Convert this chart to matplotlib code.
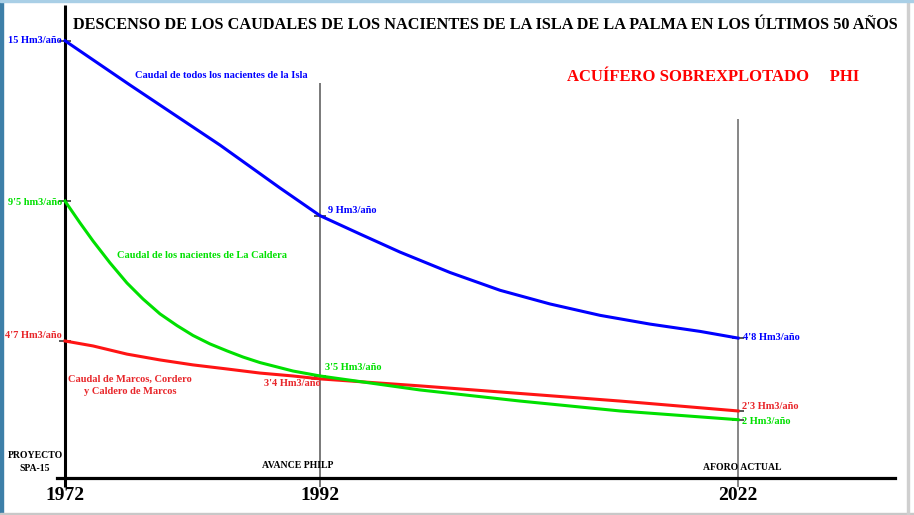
import numpy as np
import matplotlib
matplotlib.use("Agg")
import matplotlib.pyplot as plt
from matplotlib.patches import Rectangle

plt.rcParams['font.family'] = ['Liberation Serif', 'DejaVu Serif']

# ---------------- data ----------------
milestone_years = [1972, 1992, 2022]
milestone_names = ["PROYECTO\nSPA-15", "AVANCE PHILP", "AFORO ACTUAL"]

isla_years = [1972, 1977.10, 1984.16, 1988.86, 1992, 1994.87, 1997.74, 2001.33, 2004.92,
              2008.51, 2012.10, 2015.68, 2019.27, 2022]
isla_vals = [15.0, 13.48, 11.42, 9.95, 9.0, 8.37, 7.75, 7.05, 6.44,
             5.97, 5.58, 5.28, 5.03, 4.8]

caldera_years = [1972, 1973.18, 1974.20, 1975.53, 1976.86, 1978.12, 1979.45, 1980.78, 1982.04,
                 1983.37, 1984.71, 1985.96, 1987.29, 1988.63, 1989.88, 1992,
                 1999.18, 2006.35, 2013.53, 2022]
caldera_vals = [9.5, 8.75, 8.13, 7.38, 6.69, 6.14, 5.63, 5.23, 4.89,
                4.60, 4.36, 4.15, 3.96, 3.81, 3.67, 3.5,
                3.02, 2.64, 2.30, 2.0]

marcos_years = [1972, 1974.20, 1976.86, 1979.45, 1982.04, 1984.71, 1987.29, 1989.88, 1992,
                1999.18, 2006.35, 2013.53, 2022]
marcos_vals = [4.7, 4.53, 4.25, 4.05, 3.88, 3.74, 3.60, 3.50, 3.4,
               3.16, 2.90, 2.64, 2.3]

# labelled points: (year, value, text)
isla_points = [(1972, 15.0, "15 Hm3/año"), (1992, 9.0, "9 Hm3/año"), (2022, 4.8, "4'8 Hm3/año")]
caldera_points = [(1972, 9.5, "9'5 hm3/año"), (1992, 3.5, "3'5 Hm3/año"), (2022, 2.0, "2 Hm3/año")]
marcos_points = [(1972, 4.7, "4'7 Hm3/año"), (1992, 3.4, "3'4 Hm3/año"), (2022, 2.3, "2'3 Hm3/año")]

title = "DESCENSO DE LOS CAUDALES DE LOS NACIENTES DE LA ISLA DE LA PALMA EN LOS ÚLTIMOS 50 AÑOS"
subtitle = "ACUÍFERO SOBREXPLOTADO     PHI"

BLUE = "#0000ff"
GREEN = "#00e000"
RED = "#ff1414"
RED_T = "#e8262a"

W, H = 914, 515

def px(x, y):
    return (x / W, 1 - y / H)

# hand-drawn, non-uniform time axis
def fwd(t):
    t = np.asarray(t, float)
    return np.where(t <= 1992, 65 + (t - 1972) * 12.75, 320 + (t - 1992) * 418 / 30)

def inv(u):
    u = np.asarray(u, float)
    return np.where(u <= 320, 1972 + (u - 65) / 12.75, 1992 + (u - 320) * 30 / 418)

fig = plt.figure(figsize=(W / 100, H / 100), dpi=100)
ax = fig.add_axes([57 / W, (H - 478) / H, (895 - 57) / W, 473 / H])
ax.set_xscale('function', functions=(fwd, inv))
ax.set_xlim(float(inv(57)), float(inv(895)))
ax.set_ylim(0, 473 / 29.15)

for s in ['top', 'right', 'left']:
    ax.spines[s].set_visible(False)
ax.spines['bottom'].set_linewidth(2.3)
ax.spines['bottom'].set_color('black')
ax.set_xticks([])
ax.set_yticks([])
ax.patch.set_alpha(0)

# vertical axis at 1972 and guide lines
ax.vlines(milestone_years[0], -0.3, 473 / 29.15, color='black', lw=2.2, clip_on=False, zorder=3)
ax.vlines(milestone_years[1], -0.3, 13.55, color='#555555', lw=1.1, clip_on=False, zorder=1)
ax.vlines(milestone_years[2], -0.3, 12.3, color='#666666', lw=1.1, clip_on=False, zorder=1)

# small tick marks at labelled points
for pts in (isla_points, caldera_points, marcos_points):
    ax.plot([p[0] for p in pts], [p[1] for p in pts], ls='none', marker='_',
            ms=8, mew=1.4, color='#555555', zorder=2, clip_on=False)

# curves
ax.plot(isla_years, isla_vals, color=BLUE, lw=2.2, zorder=4, solid_joinstyle='round')
ax.plot(marcos_years, marcos_vals, color=RED, lw=2.2, zorder=4, solid_joinstyle='round')
ax.plot(caldera_years, caldera_vals, color=GREEN, lw=2.2, zorder=5, solid_joinstyle='round')

fs = 7.5
def lab(pt, color, dx, dy, ha='left'):
    ax.annotate(pt[2], (pt[0], pt[1]), xytext=(dx, dy), textcoords='offset pixels',
                ha=ha, va='center', color=color, fontsize=fs, fontweight='bold', zorder=6)

lab(isla_points[0], BLUE, -3, 0, 'right')
lab(isla_points[1], BLUE, 8, 5)
lab(isla_points[2], BLUE, 5, 1)
lab(caldera_points[0], GREEN, -3, -1, 'right')
lab(caldera_points[1], GREEN, 5, 8)
lab(caldera_points[2], GREEN, 4, -2)
lab(marcos_points[0], RED_T, -3, 5, 'right')
lab(marcos_points[1], RED_T, 1, -5, 'right')
lab(marcos_points[2], RED_T, 4, 4)

# series names
fig.text(*px(135, 76), "Caudal de todos los nacientes de la Isla", color=BLUE, fontsize=fs,
         fontweight='bold', ha='left', va='center')
fig.text(*px(117, 256), "Caudal de los nacientes de La Caldera", color=GREEN, fontsize=fs,
         fontweight='bold', ha='left', va='center')
fig.text(*px(130, 385), "Caudal de Marcos, Cordero\ny Caldero de Marcos", color=RED_T, fontsize=fs,
         fontweight='bold', ha='center', va='center', linespacing=1.45)

# titles
fig.text(*px(73, 25), title, fontsize=11.7, fontweight='bold', ha='left', va='center', color='black')
fig.text(*px(567, 77), subtitle, fontsize=12, fontweight='bold', ha='left', va='center', color='#ff0000')

# milestone texts and years
fig.text(*px(35, 462), milestone_names[0], fontsize=7, fontweight='bold', ha='center', va='center',
         linespacing=1.5)
fig.text(*px(298, 466), milestone_names[1], fontsize=7, fontweight='bold', ha='center', va='center')
fig.text(*px(742, 468), milestone_names[2], fontsize=7, fontweight='bold', ha='center', va='center')
for yr in milestone_years:
    ax.annotate(str(yr), (yr, 0), xytext=(0, -18), textcoords='offset pixels', ha='center',
                va='center', fontsize=14, fontweight='bold', annotation_clip=False)

# frame decorations
fig.patches.append(Rectangle((0, 0), 3 / W, 1, transform=fig.transFigure, color='#3d7fa8', zorder=0))
fig.patches.append(Rectangle((0, 0), 1, 2 / H, transform=fig.transFigure, color='#c8c8c8', zorder=0))
fig.patches.append(Rectangle((907 / W, 0), 2 / W, 1, transform=fig.transFigure, color='#cfcfcf', zorder=0))
fig.patches.append(Rectangle((0, 1 - 2 / H), 1, 2 / H, transform=fig.transFigure, color='#a9cfe6', zorder=0))

fig.savefig("out.png", dpi=100)
